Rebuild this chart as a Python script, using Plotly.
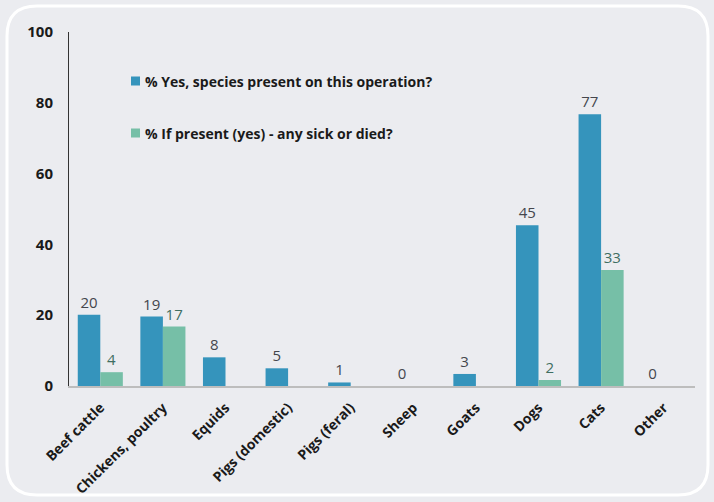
import plotly.graph_objects as go

categories = ["Beef cattle", "Chickens, poultry", "Equids", "Pigs (domestic)", "Pigs (feral)",
              "Sheep", "Goats", "Dogs", "Cats", "Other"]
yes_present = [20.1, 19.6, 8.1, 5.0, 1.0, 0, 3.4, 45.4, 76.8, 0]
sick_or_died = [3.9, 16.8, 0, 0, 0, 0, 0, 1.7, 32.8, 0]
yes_labels = ["20", "19", "8", "5", "1", "0", "3", "45", "77", "0"]
sick_labels = ["4", "17", "", "", "", "", "", "2", "33", ""]
series_names = ["% Yes, species present on this operation?",
                "% If present (yes) - any sick or died?"]

BG = "#ebecf0"
BLUE = "#3594bc"
GREEN = "#76bfa7"
FONT = "Open Sans, DejaVu Sans, sans-serif"

fig = go.Figure()
fig.add_trace(go.Bar(
    x=categories, y=yes_present, name=series_names[0],
    marker=dict(color=BLUE, line=dict(width=0)),
    text=yes_labels, textposition="outside", cliponaxis=False,
    textfont=dict(family=FONT, size=15, color="#44464d"),
))
fig.add_trace(go.Bar(
    x=categories, y=sick_or_died, name=series_names[1],
    marker=dict(color=GREEN, line=dict(width=0)),
    text=sick_labels, textposition="outside", cliponaxis=False,
    textfont=dict(family=FONT, size=15, color="#3f6e62"),
))

# plot area in pixels
L, T, R, B = 69, 32, 695, 386
W, H = R - L, B - T
def px(x):
    return (x - L) / W
def py(y):
    return (B - y) / H

# rounded border
x0, x1, y0, y1, r = 7, 708, 6, 495, 30
path = (f"M {px(x0 + r)} {py(y0)} L {px(x1 - r)} {py(y0)} "
        f"Q {px(x1)} {py(y0)} {px(x1)} {py(y0 + r)} "
        f"L {px(x1)} {py(y1 - r)} Q {px(x1)} {py(y1)} {px(x1 - r)} {py(y1)} "
        f"L {px(x0 + r)} {py(y1)} Q {px(x0)} {py(y1)} {px(x0)} {py(y1 - r)} "
        f"L {px(x0)} {py(y0 + r)} Q {px(x0)} {py(y0)} {px(x0 + r)} {py(y0)} Z")
shapes = [dict(type="path", xref="paper", yref="paper", path=path,
               line=dict(color="white", width=3), layer="below")]

# manual legend
annotations = []
legend_rows = [(81, BLUE, series_names[0]), (133, GREEN, series_names[1])]
for cy, col, name in legend_rows:
    shapes.append(dict(type="rect", xref="paper", yref="paper",
                       x0=px(131), x1=px(140), y0=py(cy + 4.5), y1=py(cy - 4.5),
                       fillcolor=col, line=dict(width=0)))
    annotations.append(dict(xref="paper", yref="paper", x=px(143), y=py(cy),
                            xanchor="left", yanchor="middle", showarrow=False,
                            text=name,
                            font=dict(family=FONT, size=14, color="#1a1a1a", weight="bold")))

fig.update_layout(
    width=714, height=502,
    margin=dict(l=L, r=714 - R, t=T, b=502 - B, autoexpand=False),
    paper_bgcolor=BG, plot_bgcolor=BG,
    barmode="group", bargap=0.28, bargroupgap=0,
    font=dict(family=FONT, color="#1a1a1a"),
    showlegend=False,
    shapes=shapes, annotations=annotations,
    xaxis=dict(showgrid=False, showline=True, linecolor="#bdbdbd", linewidth=2,
               tickangle=-45, ticks="", ticklabelstandoff=6, automargin=False,
               tickfont=dict(family=FONT, size=14, color="#1a1a1a", weight="bold")),
    yaxis=dict(range=[0, 100], dtick=20, showgrid=False, zeroline=False,
               showline=True, linecolor="#333333", linewidth=1, ticks="",
               ticklabelstandoff=12, automargin=False,
               tickfont=dict(family=FONT, size=15, color="#1a1a1a", weight="bold")),
)

fig.write_html("out.html")
